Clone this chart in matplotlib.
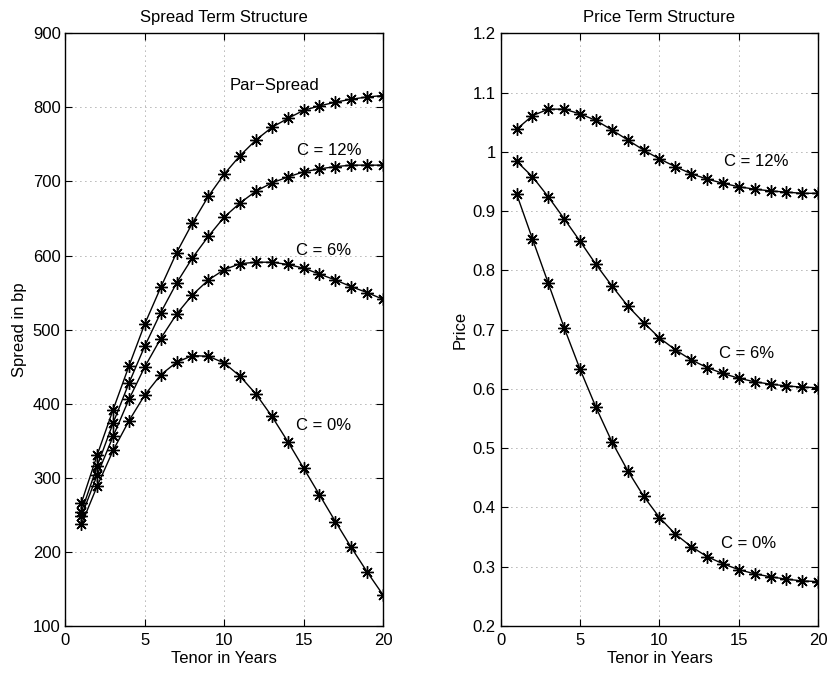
import numpy as np
import matplotlib
matplotlib.use("Agg")
import matplotlib.pyplot as plt

plt.rcParams['font.family'] = ['Liberation Sans', 'DejaVu Sans']
plt.rcParams['font.size'] = 12

# Tenor in years
tenor = list(range(1, 21))

# Spread term structure (bp)
par_spread = [266, 331, 392, 451, 508, 557, 604, 644, 680, 710,
              735, 756, 773, 785, 796, 802, 807, 811, 814, 816]
spread_c12 = [254, 316, 374, 428, 478, 523, 563, 597, 626, 652,
              671, 687, 698, 706, 713, 717, 720, 722, 722, 722]
spread_c6 = [248, 304, 356, 406, 450, 488, 521, 547, 567, 581,
             589, 591, 591, 588, 583, 575, 567, 558, 550, 541]
spread_c0 = [237, 289, 337, 377, 412, 439, 456, 465, 464, 455,
             437, 413, 383, 349, 313, 277, 241, 206, 173, 142]

# Price term structure
price_c12 = [1.038, 1.061, 1.072, 1.072, 1.064, 1.053, 1.037, 1.020, 1.003, 0.988,
             0.975, 0.963, 0.954, 0.947, 0.941, 0.937, 0.934, 0.932, 0.930, 0.930]
price_c6 = [0.984, 0.958, 0.924, 0.887, 0.849, 0.810, 0.774, 0.740, 0.712, 0.686,
            0.666, 0.649, 0.636, 0.626, 0.618, 0.612, 0.608, 0.605, 0.603, 0.602]
price_c0 = [0.929, 0.853, 0.778, 0.703, 0.633, 0.569, 0.511, 0.462, 0.419, 0.383,
            0.355, 0.334, 0.317, 0.305, 0.295, 0.288, 0.283, 0.279, 0.276, 0.275]

fig = plt.figure(figsize=(8.29, 6.75), dpi=100)
ax1 = fig.add_axes([0.079, 0.0726, 0.383, 0.8781])
ax2 = fig.add_axes([0.604, 0.0726, 0.383, 0.8781])

# MATLAB-like asterisk marker (8 spokes)
style = dict(color='k', linewidth=1.0, marker=(8, 2, 0), markersize=9, markeredgewidth=1.0)

for s in [par_spread, spread_c12, spread_c6, spread_c0]:
    ax1.plot(tenor, s, **style)
for p in [price_c12, price_c6, price_c0]:
    ax2.plot(tenor, p, **style)

ax1.text(10.35, 829, "Par\u2212Spread", va='center')
ax1.text(14.6, 742, "C = 12%", va='center')
ax1.text(14.5, 607, "C = 6%", va='center')
ax1.text(14.5, 371, "C = 0%", va='center')

ax2.text(14.07, 0.984, "C = 12%", va='center')
ax2.text(13.77, 0.660, "C = 6%", va='center')
ax2.text(13.9, 0.339, "C = 0%", va='center')

ax1.set_xlim(0, 20)
ax1.set_ylim(100, 900)
ax1.set_yticks(np.arange(100, 901, 100))
ax1.set_title("Spread Term Structure", fontsize=12, pad=8)
ax1.set_xlabel("Tenor in Years")
ax1.set_ylabel("Spread in bp")

ax2.set_xlim(0, 20)
ax2.set_ylim(0.2, 1.2)
ax2.set_yticks(np.arange(0.2, 1.21, 0.1))
ax2.set_yticklabels(["0.2", "0.3", "0.4", "0.5", "0.6", "0.7", "0.8", "0.9", "1", "1.1", "1.2"])
ax2.set_title("Price Term Structure", fontsize=12, pad=8)
ax2.set_xlabel("Tenor in Years")
ax2.set_ylabel("Price")

for ax in [ax1, ax2]:
    ax.set_xticks([0, 5, 10, 15, 20])
    ax.grid(True, linestyle=(0, (1, 5)), color='k', linewidth=0.6, alpha=0.6)
    ax.tick_params(direction='in', top=True, right=True, length=5, width=0.8)
    ax.tick_params(axis='x', pad=5)
    for sp in ax.spines.values():
        sp.set_linewidth(1.0)
    ax.xaxis.labelpad = 2

fig.savefig("out.png", dpi=100)
